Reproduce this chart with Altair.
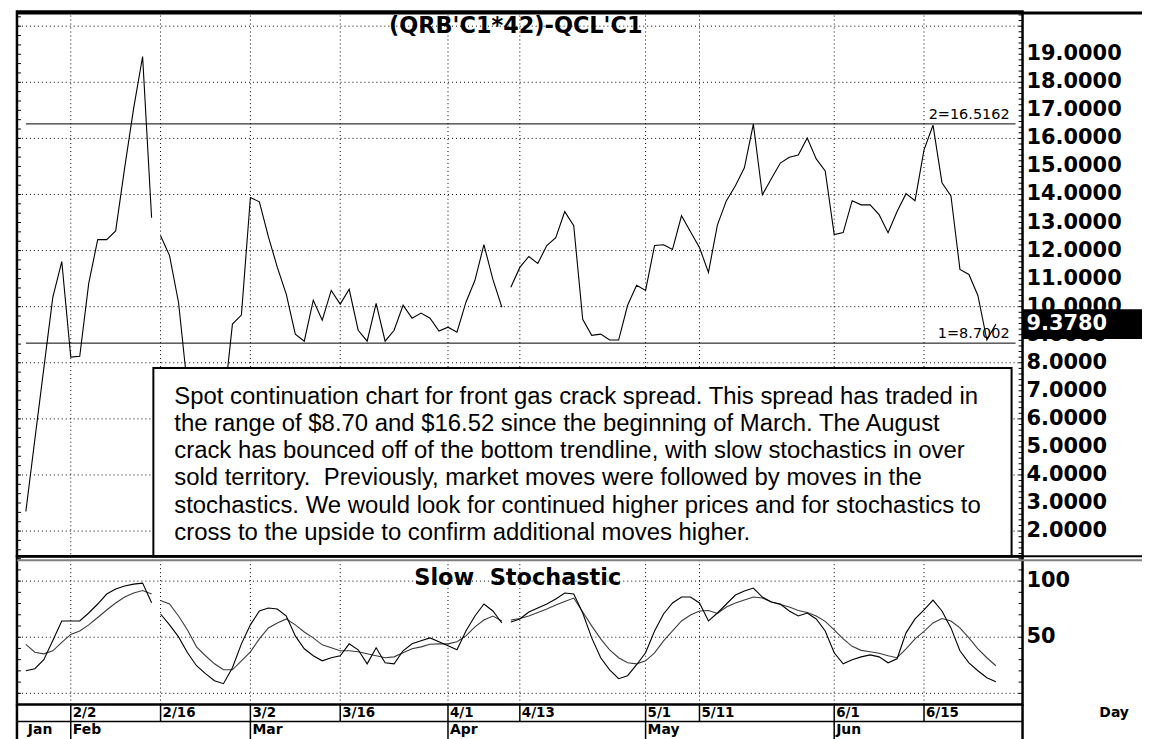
import altair as alt
import pandas as pd

# ---------------- data ----------------
# one slot per weekday starting Mon 26 Jan; a gap follows slot 14 and slot 53
price = [
    2.70, 5.26, 7.80, 10.33, 11.61, 8.20, 8.23, 10.83, 12.39, 12.39,
    12.70, 14.95, 17.07, 18.92, 13.17, 12.53, 11.82, 10.15, 7.10, 5.60,
    5.00, 5.30, 6.40, 9.38, 9.70, 13.89, 13.74, 12.50, 11.40, 10.44,
    9.02, 8.77, 10.23, 9.52, 10.58, 10.09, 10.62, 9.16, 8.77, 10.12,
    8.77, 9.16, 10.05, 9.59, 9.77, 9.59, 9.13, 9.27, 9.09, 10.16,
    10.94, 12.21, 10.97, 9.98, 10.69, 11.40, 11.79, 11.54, 12.18, 12.46,
    13.39, 12.89, 9.55, 8.98, 9.02, 8.81, 8.81, 10.05, 10.76, 10.58,
    12.18, 12.21, 12.04, 13.24, 12.67, 12.11, 11.22, 12.92, 13.78, 14.31,
    14.95, 16.51, 13.99, 14.56, 15.12, 15.33, 15.41, 16.01, 15.27, 14.84,
    12.57, 12.64, 13.78, 13.63, 13.63, 13.28, 12.64, 13.39, 14.03, 13.78,
    15.59, 16.47, 14.42, 13.95, 11.33, 11.15, 10.40, 8.81, 9.378,
]
slow_k = [
    20.1, 21.9, 30.0, 47.0, 64.5, 64.5, 64.5, 71.6, 79.6, 88.5,
    92.9, 95.6, 97.3, 98.2, 80.7, 70.7, 61.0, 50.3, 36.1, 24.6,
    17.5, 11.3, 8.6, 22.8, 44.1, 61.0, 73.4, 76.0, 75.2, 68.9,
    51.2, 39.7, 33.5, 29.0, 31.7, 33.5, 44.1, 38.8, 26.3, 40.6,
    27.2, 26.3, 37.9, 44.1, 46.8, 49.4, 45.9, 42.3, 38.8, 55.6,
    68.9, 79.6, 73.4, 62.7, 63.6, 66.3, 72.5, 76.0, 79.6, 84.0,
    89.4, 88.5, 71.6, 49.4, 31.7, 21.0, 13.0, 15.7, 25.5, 36.1,
    55.6, 70.7, 80.5, 85.8, 85.8, 80.5, 64.5, 71.6, 79.6, 87.6,
    91.1, 93.8, 85.8, 81.4, 79.6, 73.4, 68.9, 71.6, 66.3, 55.6,
    36.1, 26.3, 29.9, 32.5, 34.3, 32.5, 27.2, 30.8, 53.9, 66.3,
    74.3, 83.1, 73.4, 58.3, 37.9, 27.2, 20.1, 13.9, 10.4,
]
slow_d = [
    43.7, 36.6, 35.2, 37.9, 45.4, 52.5, 55.6, 61.0, 67.6, 74.3,
    80.5, 85.8, 89.4, 91.6, 88.5, 82.7, 79.6, 68.9, 56.5, 41.4,
    33.5, 26.3, 21.0, 21.0, 29.0, 37.0, 48.5, 58.3, 62.7, 66.3,
    61.0, 54.7, 49.4, 43.2, 40.6, 37.9, 37.9, 37.0, 35.2, 33.5,
    31.7, 32.5, 36.1, 39.7, 41.4, 43.7, 44.1, 44.1, 45.9, 51.2,
    59.2, 65.4, 68.9, 64.5, 65.4, 66.7, 68.9, 72.0, 75.2, 78.7,
    81.8, 84.9, 72.5, 60.1, 48.5, 38.8, 31.7, 27.2, 26.3, 29.0,
    36.1, 46.8, 55.6, 64.5, 69.8, 73.4, 73.8, 71.2, 76.9, 80.5,
    83.1, 85.8, 84.9, 81.4, 79.1, 76.9, 73.8, 72.0, 68.9, 64.1,
    56.5, 48.5, 41.9, 38.3, 37.0, 35.7, 33.5, 31.7, 39.7, 48.5,
    55.2, 62.7, 66.7, 64.5, 58.3, 49.4, 39.7, 31.7, 24.6,
]
gap_after = [14, 53]

date_idx = [5, 15, 25, 35, 47, 55, 69, 75, 90, 100]
date_lbl = ["2/2", "2/16", "3/2", "3/16", "4/1", "4/13", "5/1", "5/11", "6/1", "6/15"]
month_idx = [0, 5, 25, 47, 69, 90]
month_lbl = ["Jan", "Feb", "Mar", "Apr", "May", "Jun"]

price_grid = [2, 4, 6, 8, 10, 12, 14, 16, 18, 20]
price_labels = list(range(2, 20))
stoch_grid = [0, 50, 100]
stoch_labels = [50, 100]

trend_name = ["2", "1"]
trend_val = [16.5162, 8.7002]
last_value = [9.378]

NB = "\u00a0"
title = "(QRB'C1*42)-QCL'C1"
stoch_title = "Slow" + NB + " Stochastic"
note_lines = [
    "Spot continuation chart for front gas crack spread. This spread has traded in",
    "the range of $8.70 and $16.52 since the beginning of March. The August",
    "crack has bounced off of the bottom trendline, with slow stochastics in over",
    "sold territory." + NB + " Previously, market moves were followed by moves in the",
    "stochastics. We would look for continued higher prices and for stochastics to",
    "cross to the upside to confirm additional moves higher.",
]

# ---------------- layout / style ----------------
W = 1010
H1, H2, H3 = 547, 149, 35
RIGHT = W + 120
X_DOM = [-0.99, 110.97]
P_DOM = [1.104, 20.52]
S_DOM = [-10.0, 122.2]
BOLD = "DejaVu Sans"
DOT = [1, 3]

n = len(price)
seg = [sum(1 for b in gap_after if i > b) for i in range(n)]
df = pd.DataFrame({"idx": list(range(n)), "price": price, "k": slow_k, "d": slow_d, "seg": seg})

xs = alt.Scale(domain=X_DOM, nice=False, zero=False)
ps = alt.Scale(domain=P_DOM, nice=False, zero=False)
ss = alt.Scale(domain=S_DOM, nice=False, zero=False)
X = alt.X("idx:Q", scale=xs, axis=None)
PY = lambda f: alt.Y(f, scale=ps, axis=None)
SY = lambda f: alt.Y(f, scale=ss, axis=None)
one = pd.DataFrame({"a": [0]})

# tick-mark positions along the frame (axis decoration)
price_ticks_r = [round(1.2 + 0.2 * i, 1) for i in range(97)]
price_ticks_l = [round(4 / 3 + i / 3, 3) for i in range(58)]
stoch_ticks = list(range(-10, 121, 10))


def tick_layer(vals, yf, left):
    x0, x1 = (0, 4) if left else (W - 4, W)
    return alt.Chart(pd.DataFrame({"v": vals})).mark_rule(color="black", strokeWidth=1).encode(
        x=alt.value(x0), x2=alt.value(x1), y=yf("v:Q"))


def label_layer(vals, yf, fmt):
    return alt.Chart(pd.DataFrame({"v": vals})).mark_text(
        align="left", baseline="middle", font=BOLD, fontSize=21, fontWeight="bold", color="black").encode(
        x=alt.value(W + 4), y=yf("v:Q"), text=alt.Text("v:Q", format=fmt))


# ---------------- price panel ----------------
p_grid_h = alt.Chart(pd.DataFrame({"v": price_grid})).mark_rule(
    color="black", strokeWidth=1, strokeDash=DOT).encode(y=PY("v:Q"))
v_grid = alt.Chart(pd.DataFrame({"idx": date_idx})).mark_rule(
    color="black", strokeWidth=1, strokeDash=DOT).encode(x=X)
trend_df = pd.DataFrame({"name": trend_name, "v": trend_val})
trend = alt.Chart(trend_df).mark_rule(color="black", strokeWidth=1).encode(
    x=alt.value(9), x2=alt.value(W - 7), y=PY("v:Q"))
trend_lbl = alt.Chart(trend_df).transform_calculate(
    lbl="datum.name + '=' + format(datum.v, '.4f')").mark_text(
    align="right", baseline="alphabetic", dy=-5, font=BOLD, fontSize=14.5, color="black").encode(
    x=alt.value(W - 13), y=PY("v:Q"), text="lbl:N")
p_line = alt.Chart(df).mark_line(color="black", strokeWidth=1.1).encode(
    x=X, y=PY("price:Q"), detail="seg:N")
note_df = pd.DataFrame({"t": ["\n".join(note_lines)]})
note_box = alt.Chart(note_df).mark_rect(fill="white", stroke="black", strokeWidth=2).encode(
    x=alt.value(137), x2=alt.value(999), y=alt.value(358), y2=alt.value(H1))
note_txt = alt.Chart(note_df).mark_text(
    align="left", baseline="alphabetic", font="Liberation Sans", fontSize=24,
    lineBreak="\n", lineHeight=27.3, color="black").encode(
    x=alt.value(158), y=alt.value(394), text="t:N")
title_txt = alt.Chart(pd.DataFrame({"t": [title]})).mark_text(
    align="center", baseline="middle", font=BOLD, fontSize=22.5, fontWeight="bold", color="black").encode(
    x=alt.value(501), y=alt.value(14), text="t:N")
last_df = pd.DataFrame({"v": last_value})
last_box = alt.Chart(last_df).transform_calculate(
    lo="datum.v - 0.53", hi="datum.v + 0.53").mark_rect(color="black").encode(
    x=alt.value(W), x2=alt.value(RIGHT), y=PY("lo:Q"), y2="hi:Q")
last_txt = alt.Chart(last_df).mark_text(
    align="left", baseline="middle", font=BOLD, fontSize=21, fontWeight="bold", color="white").encode(
    x=alt.value(W + 4), y=PY("v:Q"), text=alt.Text("v:Q", format=".4f"))
top_rule = alt.Chart(one).mark_rule(color="black", strokeWidth=3).encode(
    x=alt.value(0), x2=alt.value(RIGHT), y=alt.value(1.5))
bot_rule = alt.Chart(one).mark_rule(color="black", strokeWidth=2).encode(
    x=alt.value(0), x2=alt.value(RIGHT), y=alt.value(H1))

price_chart = alt.layer(
    p_grid_h, v_grid, trend, p_line, note_box, note_txt, trend_lbl, title_txt,
    tick_layer(price_ticks_r, PY, False), tick_layer(price_ticks_l, PY, True),
    label_layer(price_labels, PY, ".4f"),
    last_box, last_txt, top_rule, bot_rule,
).properties(width=W, height=H1, view=alt.ViewBackground(stroke="black", strokeWidth=2.5))

# ---------------- stochastic panel ----------------
s_grid_h = alt.Chart(pd.DataFrame({"v": stoch_grid})).mark_rule(
    color="black", strokeWidth=1, strokeDash=DOT).encode(y=SY("v:Q"))
k_line = alt.Chart(df).mark_line(color="black", strokeWidth=1.1).encode(
    x=X, y=SY("k:Q"), detail="seg:N")
d_line = alt.Chart(df).mark_line(color="#3c3c3c", strokeWidth=1.1).encode(
    x=X, y=SY("d:Q"), detail="seg:N")
s_title = alt.Chart(pd.DataFrame({"t": [stoch_title]})).mark_text(
    align="center", baseline="middle", font=BOLD, fontSize=22.5, fontWeight="bold", color="black").encode(
    x=alt.value(503), y=alt.value(22), text="t:N")
sep_rule = alt.Chart(one).mark_rule(color="#808080", strokeWidth=2).encode(
    x=alt.value(0), x2=alt.value(RIGHT), y=alt.value(4))

stoch_chart = alt.layer(
    s_grid_h, v_grid, d_line, k_line, s_title, sep_rule,
    tick_layer(stoch_ticks, SY, False), tick_layer(stoch_ticks, SY, True),
    label_layer(stoch_labels, SY, "d"),
).properties(width=W, height=H2, view=alt.ViewBackground(stroke="black", strokeWidth=2.5))

# ---------------- date axis rows ----------------
ROW = 17
date_df = pd.DataFrame({"idx": date_idx, "lbl": date_lbl})
month_df = pd.DataFrame({"idx": month_idx, "lbl": month_lbl})
row_rule = alt.Chart(one).mark_rule(color="black", strokeWidth=1.5).encode(
    x=alt.value(0), x2=alt.value(W), y=alt.value(ROW))
date_ticks = alt.Chart(date_df).mark_rule(color="black", strokeWidth=1.5).encode(
    x=X, y=alt.value(0), y2=alt.value(ROW))
month_ticks = alt.Chart(month_df.iloc[1:]).mark_rule(color="black", strokeWidth=1.5).encode(
    x=X, y=alt.value(ROW), y2=alt.value(H3))
edge_rules = alt.Chart(pd.DataFrame({"px": [0, W]})).mark_rule(color="black", strokeWidth=2.5).encode(
    x=alt.X("px:Q", scale=None, axis=None), y=alt.value(0), y2=alt.value(H3))
date_txt = alt.Chart(date_df).mark_text(
    align="left", baseline="middle", dx=2, font=BOLD, fontSize=13.5, fontWeight="bold", color="black").encode(
    x=X, y=alt.value(9), text="lbl:N")
month_txt = alt.Chart(month_df).mark_text(
    align="left", baseline="middle", dx=2, font=BOLD, fontSize=14, fontWeight="bold", color="black").encode(
    x=X, y=alt.value(26), text="lbl:N")
day_txt = alt.Chart(pd.DataFrame({"t": ["Day"]})).mark_text(
    align="center", baseline="middle", font=BOLD, fontSize=14, fontWeight="bold", color="black").encode(
    x=alt.value(W + 92), y=alt.value(9), text="t:N")

axis_chart = alt.layer(
    row_rule, date_ticks, month_ticks, edge_rules, date_txt, month_txt, day_txt,
).properties(width=W, height=H3, view=alt.ViewBackground(stroke=None))

chart = alt.vconcat(price_chart, stoch_chart, axis_chart, spacing=0, bounds="flush").properties(
    padding={"left": 6, "top": 0, "right": 0, "bottom": 0},
    background="white",
).configure(font=BOLD)

chart.save("out.html", embed_options={"renderer": "svg", "actions": False})
